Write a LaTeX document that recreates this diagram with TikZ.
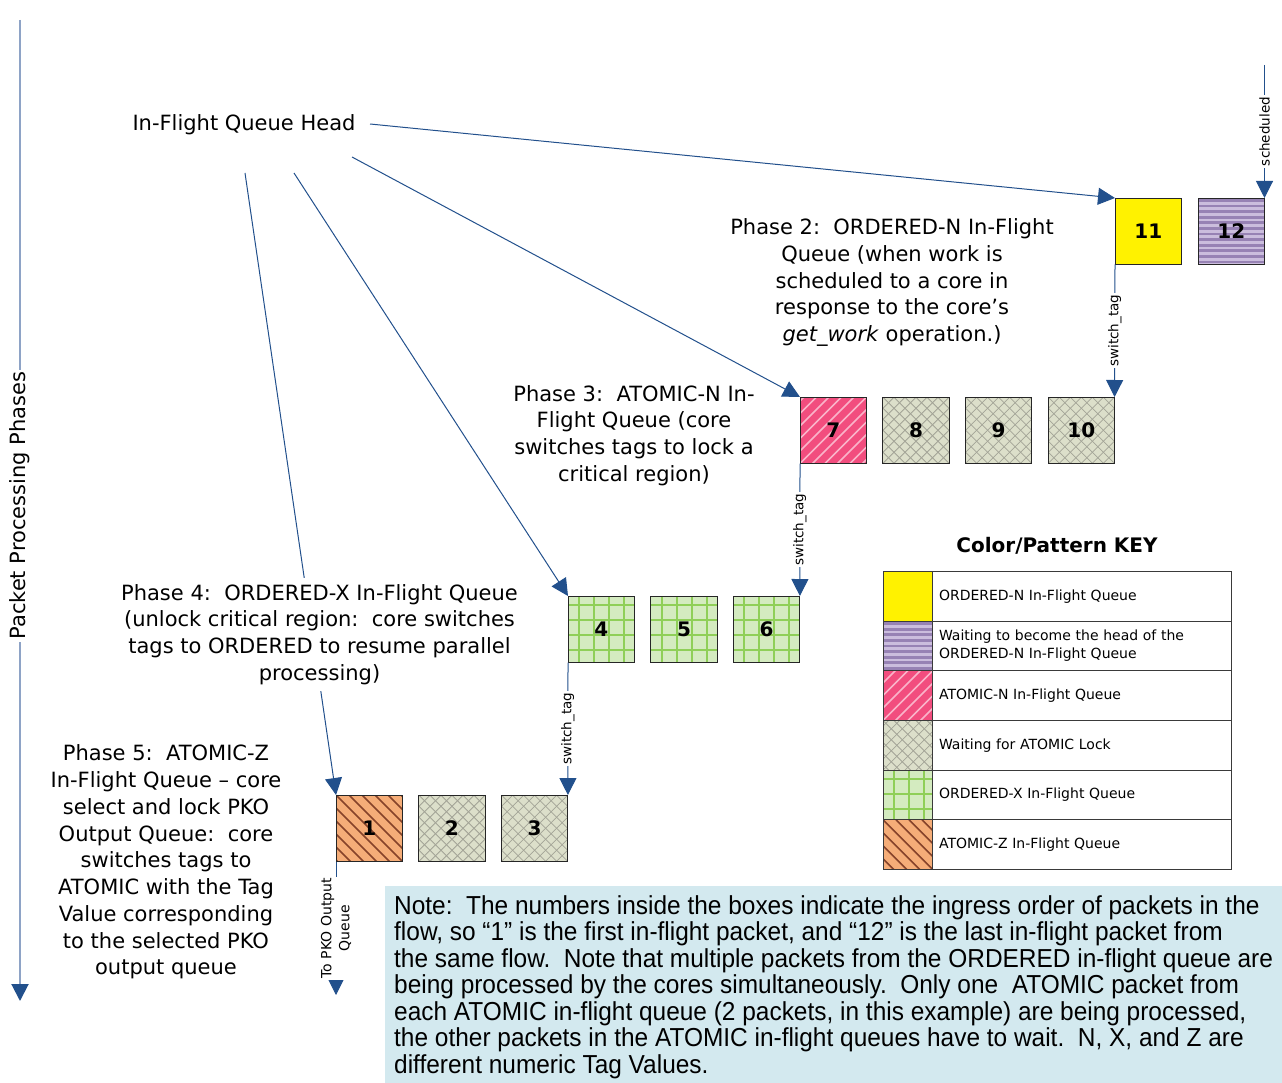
\documentclass[tikz,border=0pt]{standalone}
\usepackage{fontspec}
\setmainfont{DejaVu Sans}
\newfontfamily\notefont[FakeStretch=0.94]{Liberation Sans}
\usetikzlibrary{arrows.meta,calc}
\frenchspacing

\definecolor{linkblue}{HTML}{22508C}
\definecolor{axisblue}{HTML}{8EA3C6}
\definecolor{atomN}{HTML}{F24D7E}
\definecolor{atomNline}{HTML}{FAB4C9}
\definecolor{waitbg}{HTML}{DCDFCA}
\definecolor{waitline}{HTML}{A3A497}
\definecolor{ordXbg}{HTML}{D4EBC0}
\definecolor{ordXline}{HTML}{8FCF58}
\definecolor{atomZ}{HTML}{F5AD78}
\definecolor{atomZline}{HTML}{86432A}
\definecolor{waitNbg}{HTML}{CBBDDD}
\definecolor{waitNline}{HTML}{9782B4}
\definecolor{notebg}{HTML}{D3E9EF}
\definecolor{keyedge}{HTML}{3A3A3A}

\begin{document}
\begin{tikzpicture}[x=1pt,y=-1pt,
  conn/.style={draw=linkblue, line width=1pt, -{Triangle[length=17pt,width=17pt]}},
  axisline/.style={draw=axisblue, line width=2pt, -{Triangle[length=17pt,width=17pt,color=linkblue]}},
  vlabel/.style={rotate=90, fill=white, inner sep=1.5pt, font=\fontsize{13.5}{18}\selectfont},
  phase/.style={align=center, font=\fontsize{21}{26.75}\selectfont},
  pkt/.style={draw=black!85, line width=0.9pt, minimum size=66.5pt, inner sep=0pt, outer sep=0pt,
    anchor=north west, font=\fontsize{20}{24}\selectfont\bfseries},
  swatch/.style={draw=keyedge, line width=0.9pt, minimum width=49.5pt, minimum height=49.65pt,
    inner sep=0pt, outer sep=0pt, anchor=north west},
  keytext/.style={draw=keyedge, line width=0.9pt, minimum height=49.65pt, text width=285.5pt,
    inner xsep=6.5pt, inner ysep=0pt, outer sep=0pt, anchor=north west, align=left,
    font=\fontsize{14}{18}\selectfont},
  % fill patterns
  ordNfill/.style={fill=yellow},
  waitNfill/.style={fill=waitNbg, path picture={
    \foreach \k in {0,...,16}
      \fill[waitNline] ($(path picture bounding box.north west)+(0pt,-1pt-\k*5.6pt)$) rectangle ++(90pt,-2.8pt);
  }},
  atomNfill/.style={fill=atomN, path picture={
    \foreach \k in {-7,...,7}
      \draw[atomNline, line width=1.6pt] ($(path picture bounding box.south west)+(\k*12.5pt,0pt)$) -- ++(90pt,90pt);
  }},
  waitfill/.style={fill=waitbg, path picture={
    \foreach \k in {-8,...,8} {
      \draw[waitline, line width=0.8pt] ($(path picture bounding box.south west)+(\k*11pt,0pt)$) -- ++(90pt,90pt);
      \draw[waitline, line width=0.8pt] ($(path picture bounding box.north west)+(\k*11pt,0pt)$) -- ++(90pt,-90pt);
    }
  }},
  ordXfill/.style={fill=ordXbg, path picture={
    \foreach \k in {0,...,4} {
      \draw[ordXline, line width=2pt] ($(path picture bounding box.north west)+(11pt+\k*15pt,0pt)$) -- ++(0pt,-90pt);
      \draw[ordXline, line width=2pt] ($(path picture bounding box.north west)+(0pt,-9pt-\k*15pt)$) -- ++(90pt,0pt);
    }
  }},
  atomZfill/.style={fill=atomZ, path picture={
    \foreach \k in {-7,...,7}
      \draw[atomZline, line width=1.6pt] ($(path picture bounding box.north west)+(\k*13pt,0pt)$) -- ++(90pt,-90pt);
  }},
]
\useasboundingbox (0,0) rectangle (1282,1083);

% ---- phase axis ----
\coordinate (axtop) at (20,20);
\coordinate (axbot) at (20,1001);
\draw[axisline] (axtop) -- node[pos=0.495, rotate=90, fill=white, inner sep=2pt,
  font=\fontsize{21}{24}\selectfont] (axlabel) {Packet Processing Phases} (axbot);

% ---- packet boxes, one row per phase ----
\node[pkt, ordNfill]  (b11) at (1115,198)   {11};
\node[pkt, waitNfill] (b12) at (1198,198)   {12};

\node[pkt, atomNfill] (b7)  at (800,397)    {7};
\node[pkt, waitfill]  (b8)  at (882.7,397)  {8};
\node[pkt, waitfill]  (b9)  at (965.4,397)  {9};
\node[pkt, waitfill]  (b10) at (1048.1,397) {10};

\node[pkt, ordXfill]  (b4)  at (568,596)    {4};
\node[pkt, ordXfill]  (b5)  at (650.7,596)  {5};
\node[pkt, ordXfill]  (b6)  at (733.4,596)  {6};

\node[pkt, atomZfill] (b1)  at (336,795)    {1};
\node[pkt, waitfill]  (b2)  at (418.7,795)  {2};
\node[pkt, waitfill]  (b3)  at (501.4,795)  {3};

% ---- queue head pointers ----
\node[font=\fontsize{21}{24}\selectfont] (head) at (244,125) {In-Flight Queue Head};
\coordinate (h1) at (370,124);
\coordinate (h2) at (352,157);
\coordinate (h3) at (294,173);
\coordinate (h4) at (245,173);
\draw[conn] (h1) -- (b11.north west);
\draw[conn] (h2) -- (b7.north west);
\draw[conn] (h3) -- (b4.north west);
\draw[conn] (h4) -- (b1.north west);

% ---- tag switches between phases ----
\coordinate (sched) at (1264.5,65);
\draw[conn] (sched) -- node[vlabel] (lsched) {scheduled} (b12.north east);
\draw[conn] (b11.south west) -- node[vlabel] (lsw1) {switch\_tag} (b10.north east);
\draw[conn] (b7.south west) -- node[vlabel] (lsw2) {switch\_tag} (b6.north east);
\draw[conn] (b4.south west) -- node[vlabel] (lsw3) {switch\_tag} (b3.north east);
\coordinate (pko) at (336,995);
\draw[conn] (b1.south west) -- node[vlabel, align=center, font=\fontsize{14}{18}\selectfont] (lpko)
  {To PKO Output\\Queue} (pko);

% ---- phase descriptions ----
\node[phase] (p2) at (892,282.5) {Phase 2:~ ORDERED-N In-Flight\\Queue (when work is\\scheduled to a core in\\response to the core’s\\\textit{get\_work} operation.)};
\node[phase] (p3) at (634,435.5) {Phase 3:~ ATOMIC-N In-\\Flight Queue (core\\switches tags to lock a\\critical region)};
\node[phase, fill=white, inner ysep=6pt] (p4) at (319.5,634.5) {Phase 4:~ ORDERED-X In-Flight Queue\\(unlock critical region:~ core switches\\tags to ORDERED to resume parallel\\processing)};
\node[phase] (p5) at (166,862) {Phase 5:~ ATOMIC-Z\\In-Flight Queue – core\\select and lock PKO\\Output Queue:~ core\\switches tags to\\ATOMIC with the Tag\\Value corresponding\\to the selected PKO\\output queue};

% ---- colour / pattern key ----
\node[font=\fontsize{20}{24}\selectfont\bfseries] (keytitle) at (1057,546) {Color/Pattern KEY};
\foreach \i/\sty/\txt in {
  0/ordNfill/{ORDERED-N In-Flight Queue},
  1/waitNfill/{Waiting to become the head of the\\ORDERED-N In-Flight Queue},
  2/atomNfill/{ATOMIC-N In-Flight Queue},
  3/waitfill/{Waiting for ATOMIC Lock},
  4/ordXfill/{ORDERED-X In-Flight Queue},
  5/atomZfill/{ATOMIC-Z In-Flight Queue}} {
  \node[swatch, \sty] (ks\i) at (883,571.5+\i*49.65) {};
  \node[keytext] (kt\i) at (932.5,571.5+\i*49.65) {\txt};
}

% ---- note ----
\fill[notebg] (385,886) rectangle (1282,1083);
\node[align=left, anchor=north west, inner sep=0pt,
  font=\notefont\fontsize{26}{26.5}\selectfont] (note) at (394,895)
  {Note:~ The numbers inside the boxes indicate the ingress order of packets in the\\
   flow, so “1” is the first in-flight packet, and “12” is the last in-flight packet from\\
   the same flow.~ Note that multiple packets from the ORDERED in-flight queue are\\
   being processed by the cores simultaneously.~ Only one~ ATOMIC packet from\\
   each ATOMIC in-flight queue (2 packets, in this example) are being processed,\\
   the other packets in the ATOMIC in-flight queues have to wait.~ N, X, and Z are\\
   different numeric Tag Values.};
\end{tikzpicture}
\end{document}
